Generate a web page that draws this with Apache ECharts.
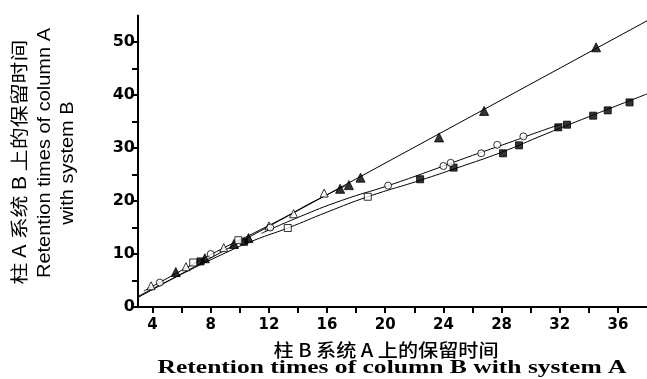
<!DOCTYPE html>
<html><head><meta charset="utf-8">
<script src="https://cdn.jsdelivr.net/npm/echarts@6/dist/echarts.min.js"></script>
<style>html,body{margin:0;padding:0;background:#fff}#c{width:647px;height:379px}</style>
</head><body><div id="c"></div>
<script>
// ---- axis ticks / labels ----
const xTickValues = [4,6,8,10,12,14,16,18,20,22,24,26,28,30,32,34,36];
const xLabelValues = [4,8,12,16,20,24,28,32,36];
const yTickValues = [0,5,10,15,20,25,30,35,40,45,50];
const yLabelValues = [0,10,20,30,40,50];

// ---- fitted lines / curves ----
const fitTriangle = [[3,1.8],[38,54]];
const curveUpper = [[3.4,3.0],[5,5.4],[7,8.4],[9,11.3],[11,14.0],[13,16.8],[15,19.8],[17.3,22.9]];
const curveLower = [[3,2.0],[6,6.2],[9,10.2],[11,12.6],[13.3,14.9],[16,17.9],[18.8,20.8],[22.4,23.9],[25,26.3],[28,29.2],[31,32.6],[34,35.9],[38,40.2]];
const curveCircle = [[11.5,13.9],[14,16.9],[17,20.1],[20.2,22.9],[23,25.6],[26,28.6],[28.5,31.0],[30.5,33.0],[32.2,34.6]];

// ---- measured points ----
const triFilled = [[5.6,6.6],[7.6,9.2],[9.6,11.9],[10.6,13.0],[16.9,22.3],[17.5,23.0],[18.3,24.4],[23.7,32.0],[26.8,37.0],[34.5,49.0]];
const triOpen = [[3.9,4.0],[6.3,7.6],[8.9,11.2],[12.0,15.3],[13.7,17.6],[15.8,21.5]];
const sqFilled = [[7.3,8.6],[10.3,12.3],[22.4,24.1],[24.7,26.3],[28.1,29.0],[29.2,30.5],[31.9,33.9],[32.5,34.4],[34.3,36.1],[35.3,37.1],[36.8,38.6]];
const sqOpen = [[6.8,8.4],[9.9,12.6],[13.3,14.9],[18.8,20.8]];
const circOpen = [[4.5,4.6],[8.0,10.0],[12.1,15.0],[20.2,22.9],[24.0,26.6],[24.5,27.2],[26.6,29.0],[27.7,30.6],[29.5,32.2]];

// ---- titles ----
const yTitle1 = '柱 A 系统 B 上的保留时间';
const yTitle2 = 'Retention times of column A';
const yTitle3 = 'with system B';
const xTitle1 = '柱 B 系统 A 上的保留时间';
const xTitle2 = 'Retention times of column B with system A';

const cv = document.createElement('canvas').getContext('2d');
function fit(text, font, target){ cv.font = font; return target / cv.measureText(text).width; }

const fY1 = '18px "Noto Sans CJK SC"';
const fY2 = '19px "Liberation Sans"';
const fX1 = '500 18px "Noto Sans CJK SC"';
const fX2 = 'bold 19px "Liberation Serif"';
const sY2 = fit(yTitle2, fY2, 250);

const lineStyle = {color:'#000', width:1};
function curve(data){ return {type:'line', data, smooth:true, symbol:'none', lineStyle, silent:true, z:2}; }
function pts(data, symbol, filled, size){
  return {type:'scatter', data, symbol, symbolSize:size,
    itemStyle:{color: filled ? '#000' : '#fff', borderColor:'#000', borderWidth:1}, z:3};
}

const chart = echarts.init(document.getElementById('c'), null, {renderer:'canvas'});
chart.setOption({
  animation:false,
  backgroundColor:'#fff',
  grid:{left:138, right:0, top:15.5, bottom:72},
  xAxis:{type:'value', min:3, max:38,
    axisLine:{lineStyle:{color:'#000', width:2}},
    axisTick:{show:true, length:6, lineStyle:{color:'#000', width:2}, customValues:xTickValues},
    axisLabel:{customValues:xLabelValues, color:'#000', fontFamily:'DejaVu Sans', fontWeight:'bold', fontSize:15, margin:11},
    splitLine:{show:false}},
  yAxis:{type:'value', min:0, max:55,
    axisLine:{show:true, lineStyle:{color:'#000', width:2}},
    axisTick:{show:true, length:6, lineStyle:{color:'#000', width:2}, customValues:yTickValues},
    axisLabel:{customValues:yLabelValues, color:'#000', fontFamily:'DejaVu Sans', fontWeight:'bold', fontSize:16, margin:3},
    splitLine:{show:false}},
  series:[
    {type:'line', data:fitTriangle, symbol:'none', lineStyle, silent:true, z:2},
    curve(curveUpper), curve(curveLower), curve(curveCircle),
    pts(triFilled,'triangle',true,9),
    pts(triOpen,'triangle',false,8),
    pts(sqFilled,'rect',true,7),
    pts(sqOpen,'rect',false,7),
    pts(circOpen,'circle',false,7)
  ],
  graphic:[
    {type:'text', x:19, y:162, rotation:Math.PI/2, scaleX:fit(yTitle1,fY1,245), style:{text:yTitle1, font:fY1, fill:'#000', align:'center', verticalAlign:'middle'}},
    {type:'text', x:45, y:153, rotation:Math.PI/2, scaleX:sY2, style:{text:yTitle2, font:fY2, fill:'#000', align:'center', verticalAlign:'middle'}},
    {type:'text', x:68, y:163, rotation:Math.PI/2, scaleX:sY2, style:{text:yTitle3, font:fY2, fill:'#000', align:'center', verticalAlign:'middle'}},
    {type:'text', x:386, y:350, scaleX:fit(xTitle1,fX1,225), style:{text:xTitle1, font:fX1, fill:'#000', align:'center', verticalAlign:'middle'}},
    {type:'text', x:392, y:368, scaleX:fit(xTitle2,fX2,469), style:{text:xTitle2, font:fX2, fill:'#000', align:'center', verticalAlign:'middle'}}
  ]
});
</script></body></html>
